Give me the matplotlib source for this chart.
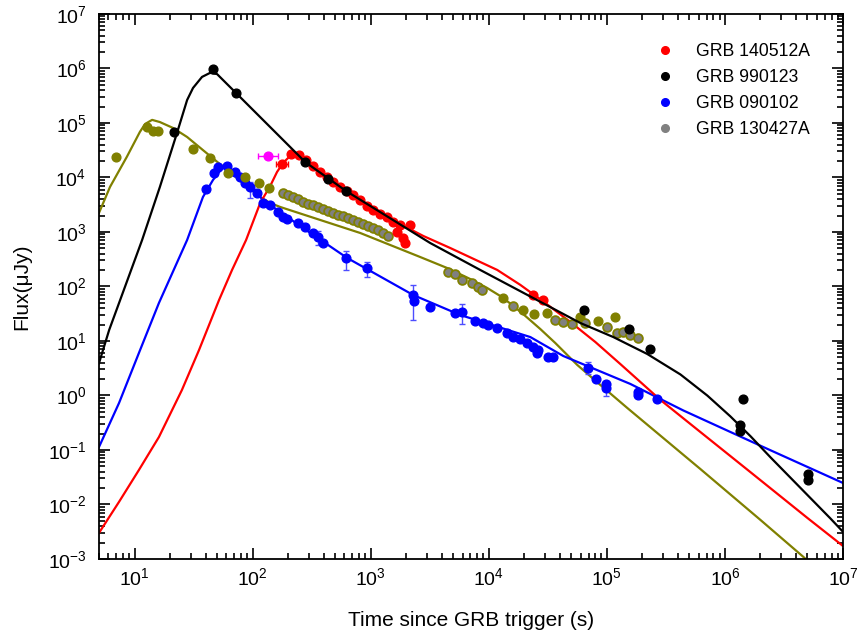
import numpy as np
import matplotlib
matplotlib.use("Agg")
import matplotlib.pyplot as plt
from matplotlib.lines import Line2D
from matplotlib.ticker import LogLocator, FixedLocator, NullFormatter

plt.rcParams['font.family'] = ['Liberation Sans', 'DejaVu Sans']
plt.rcParams['axes.unicode_minus'] = False

# ---- model curves (time [s], flux [uJy]) ----
red_mod_t = [5, 7.4, 10.9, 16.1, 25.2, 35.2, 52.0, 67.0, 88.1, 116, 141, 161, 181, 208, 238,
             279, 373, 815, 1780, 2790, 4720, 1.18e4, 1.85e4, 3.01e4, 4.91e4, 7.98e4,
             1.30e5, 2.84e5, 6.19e5, 1.64e6, 5.0e6, 1e7]
red_mod_f = [3.0e-3, 0.0112, 0.043, 0.173, 1.26, 6.84, 56.5, 201, 713, 3400, 6980, 1.26e4,
             1.85e4, 2.48e4, 2.59e4, 2.18e4, 1.26e4, 3860, 1400, 845, 508, 201, 107, 49.8,
             22.3, 9.6, 3.78, 0.83, 0.214, 0.0394, 5.65e-3, 1.73e-3]

blk_mod_t = [5, 6.1, 7.4, 11.6, 16.4, 22.9, 27.9, 31.3, 37.3, 43.6, 50, 72.4, 279, 619,
             3190, 8470, 5.96e4, 1.135e5, 2.2e5, 4.2e5, 7.1e5, 1.11e6, 1.65e6, 2.43e6,
             7.83e6, 1e7]
blk_mod_f = [3.9, 15.9, 49.8, 713, 6700, 6.56e4, 2.64e5, 4.39e5, 7.0e5, 8.3e5, 7.9e5,
             3.55e5, 1.92e4, 5650, 628, 201, 21.4, 11.8, 5.77, 2.43, 0.995, 0.415, 0.178,
             0.0734, 5.53e-3, 3.15e-3]

blu_mod_t = [5, 7.4, 10.9, 16.1, 27.9, 38.0, 46.2, 56.2, 71.1, 123, 171, 268, 632, 2290,
             5730, 2.25e4, 4.28e4, 7.24e4, 1.58e5, 4.45e5, 2.12e6, 1.0e7]
blu_mod_f = [0.113, 0.73, 6.03, 49.8, 713, 4390, 9000, 1.56e4, 1.26e4, 3860, 2330, 1180,
             334, 69.8, 30.0, 11.8, 5.3, 3.3, 1.63, 0.53, 0.113, 0.0248]

olv_mod_t = [5, 6.2, 8.6, 11.1, 12.3, 14.1, 16.4, 21.2, 27.9, 60.8, 116, 141, 171, 815,
             2620, 4450, 6970, 9700, 1.25e4, 1.58e4, 2.04e4, 2.73e4, 3.66e4, 5.62e4,
             8.81e4, 1.49e5, 6.19e5, 2.0e6, 4.62e6, 1e7]
olv_mod_f = [2230, 6700, 2.38e4, 6.84e4, 9.6e4, 1.14e5, 1.04e5, 8.1e4, 5.53e4, 1.37e4,
             4390, 3400, 2880, 959, 348, 218, 137, 93.8, 67, 45.8, 28.8, 16.6, 9.18, 3.63,
             1.56, 0.59, 0.0448, 5.2e-3, 1.09e-3, 2.4e-4]

# ---- observations ----
red_t = [178, 212, 248, 284, 326, 373, 428, 481, 551, 632, 711, 815, 933, 1050, 1200,
         1380, 1550, 1780, 2160, 1670, 1880, 1960, 2.38e4, 2.90e4]
red_f = [1.77e4, 2.70e4, 2.59e4, 2.09e4, 1.63e4, 1.26e4, 1.02e4, 8260, 6700, 5650, 4780,
         3860, 3000, 2540, 2140, 1880, 1520, 1340, 1340, 1000, 776, 628, 69.8, 56.5]

mag_t, mag_f = [135], [2.5e4]
mag_tlo, mag_thi = [111], [164]
red_err_t, red_err_f = [178], [1.77e4]
red_err_tlo, red_err_thi = [158], [200]

blk_t = [21.6, 46.2, 72.4, 279, 437, 619, 6.44e4, 1.55e5, 2.34e5, 1.41e6, 1.35e6, 1.35e6,
         5.1e6, 5.1e6]
blk_f = [6.84e4, 9.8e5, 3.55e5, 1.92e4, 9370, 5650, 37, 16.6, 7.1, 0.86, 0.288, 0.223,
         0.0363, 0.0282]

blu_t = [40.4, 47.2, 51.0, 60.8, 71.1, 78.3, 86.3, 95.1, 109, 123, 141, 164, 181, 196, 243,
         279, 326, 359, 395, 619, 933, 2290, 2330, 3190, 5200, 5960, 7670, 8970, 9900,
         1.18e4, 1.44e4, 1.61e4, 1.85e4, 2.12e4, 2.38e4, 2.62e4, 2.58e4, 3.19e4, 3.52e4,
         6.97e4, 8.15e4, 9.9e4, 9.9e4, 1.85e5, 1.85e5, 2.68e5]
blu_f = [6150, 1.21e4, 1.56e4, 1.63e4, 1.26e4, 1.02e4, 7930, 6700, 5200, 3400, 3130, 2330,
         1880, 1730, 1460, 1240, 959, 809, 628, 334, 218, 69.8, 54.2, 42.1, 32.7, 34.0,
         23.3, 21.4, 19.7, 17.3, 14.0, 11.8, 10.9, 9.18, 7.76, 6.84, 6.03, 5.08, 5.08,
         3.20, 2.01, 1.63, 1.37, 1.16, 1.02, 0.86]
blu_err_t = [95.1, 359, 619, 933, 2290, 5960, 6.97e4, 9.9e4]
blu_err_f = [6700, 809, 334, 218, 69.8, 34.0, 3.20, 1.37]
blu_err_lo = [4210, 577, 201, 149, 24.3, 20.5, 2.48, 0.98]
blu_err_hi = [8260, 1040, 448, 282, 107, 47.8, 4.12, 1.77]

olv_t = [6.97, 12.8, 14.4, 15.8, 31.3, 43.6, 61.9, 86.3, 114, 138,
         1.33e4, 1.96e4, 2.43e4, 3.13e4, 5.96e4, 8.47e4, 1.18e5]
olv_f = [2.38e4, 8.45e4, 7.13e4, 7.13e4, 3.4e4, 2.28e4, 1.21e4, 1.02e4, 7930, 6410,
         61.5, 37.1, 31.3, 32.7, 27.5, 23.3, 27.5]

gry_t = [181, 200, 220, 243, 268, 295, 326, 359, 395, 437, 481, 531, 585, 645, 711, 784,
         863, 952, 1050, 1160, 1280, 1410,
         4540, 5200, 5960, 7240, 8150, 8810, 1.61e4, 3.66e4, 4.28e4, 5.09e4, 6.57e4,
         1.01e5, 1.23e5, 1.38e5, 1.58e5, 1.85e5]
gry_f = [5200, 4780, 4390, 4030, 3550, 3270, 3130, 2880, 2640, 2430, 2230, 2050, 1970,
         1810, 1660, 1520, 1400, 1290, 1180, 1090, 959, 845,
         185, 169, 132, 116, 97.9, 86.3, 43.9, 24.3, 22.3, 20.5, 21.4,
         18.1, 14.0, 14.6, 12.9, 11.4]

x_major = [1e1, 1e2, 1e3, 1e4, 1e5, 1e6, 1e7]
y_major = [1e-3, 1e-2, 1e-1, 1e0, 1e1, 1e2, 1e3, 1e4, 1e5, 1e6, 1e7]

RED, BLK, BLU, OLV, GRY, MAG = '#ff0000', '#000000', '#0000ff', '#808000', '#808080', '#ff00ff'

fig = plt.figure(figsize=(8.59, 6.44), dpi=100)
ax = fig.add_axes([0.1152, 0.1320, 0.8662, 0.8463])

ms = 6.3
# model curves
ax.plot(olv_mod_t, olv_mod_f, '-', color=OLV, lw=1.6, zorder=2)
ax.plot(blk_mod_t, blk_mod_f, '-', color=BLK, lw=1.6, zorder=5)
ax.plot(blu_mod_t, blu_mod_f, '-', color=BLU, lw=1.6, zorder=2)
ax.plot(red_mod_t, red_mod_f, '-', color=RED, lw=1.6, zorder=2)

# data
ax.errorbar(blu_err_t, blu_err_f,
            yerr=[np.array(blu_err_f) - np.array(blu_err_lo), np.array(blu_err_hi) - np.array(blu_err_f)],
            fmt='none', ecolor='#4d4dff', elinewidth=1, capsize=2, zorder=3)
ax.plot(blu_t, blu_f, 'o', color=BLU, ms=ms, mec=BLU, zorder=3)
ax.plot(olv_t, olv_f, 'o', color=OLV, ms=ms, mec=OLV, zorder=3)
ax.plot(gry_t, gry_f, 'o', color=GRY, ms=ms, mec=OLV, mew=1.3, zorder=3)
ax.errorbar(red_err_t, red_err_f,
            xerr=[np.array(red_err_t) - np.array(red_err_tlo), np.array(red_err_thi) - np.array(red_err_t)],
            fmt='none', ecolor=RED, elinewidth=1, capsize=2, zorder=4)
ax.plot(red_t, red_f, 'o', color=RED, ms=ms, zorder=4)
ax.errorbar(mag_t, mag_f,
            xerr=[np.array(mag_t) - np.array(mag_tlo), np.array(mag_thi) - np.array(mag_t)],
            fmt='o', color=MAG, ms=ms, elinewidth=1, capsize=2, zorder=4)
ax.plot(blk_t, blk_f, 'o', color=BLK, ms=ms, zorder=6)

ax.set_xscale('log')
ax.set_yscale('log')
ax.set_xlim(5, 1e7)
ax.set_ylim(1e-3, 1e7)

ax.xaxis.set_major_locator(FixedLocator(x_major))
ax.yaxis.set_major_locator(FixedLocator(y_major))
ax.xaxis.set_minor_locator(LogLocator(base=10, subs=np.arange(2, 10), numticks=20))
ax.yaxis.set_minor_locator(LogLocator(base=10, subs=np.arange(2, 10), numticks=20))
ax.xaxis.set_minor_formatter(NullFormatter())
ax.yaxis.set_minor_formatter(NullFormatter())
ax.tick_params(which='both', direction='in', top=True, right=True, width=1.2)
ax.tick_params(which='major', length=8, labelsize=14)
ax.tick_params(axis='x', which='major', pad=6)
ax.tick_params(axis='y', which='major', pad=9)
ax.tick_params(which='minor', length=4)
for s in ax.spines.values():
    s.set_linewidth(1.3)

ax.set_xlabel('Time since GRB trigger (s)', fontsize=15, labelpad=16)
ax.set_ylabel('Flux(\u03bcJy)', fontsize=15, labelpad=12)

handles = [Line2D([], [], ls='none', marker='o', color=c, ms=5.5) for c in (RED, BLK, BLU, GRY)]
ax.legend(handles, ['GRB 140512A', 'GRB 990123', 'GRB 090102', 'GRB 130427A'],
          loc='upper right', bbox_to_anchor=(0.977, 0.976), frameon=False, fontsize=12.7,
          handletextpad=1.0, labelspacing=0.52, handlelength=1.5)

fig.savefig('out.png', dpi=100)
